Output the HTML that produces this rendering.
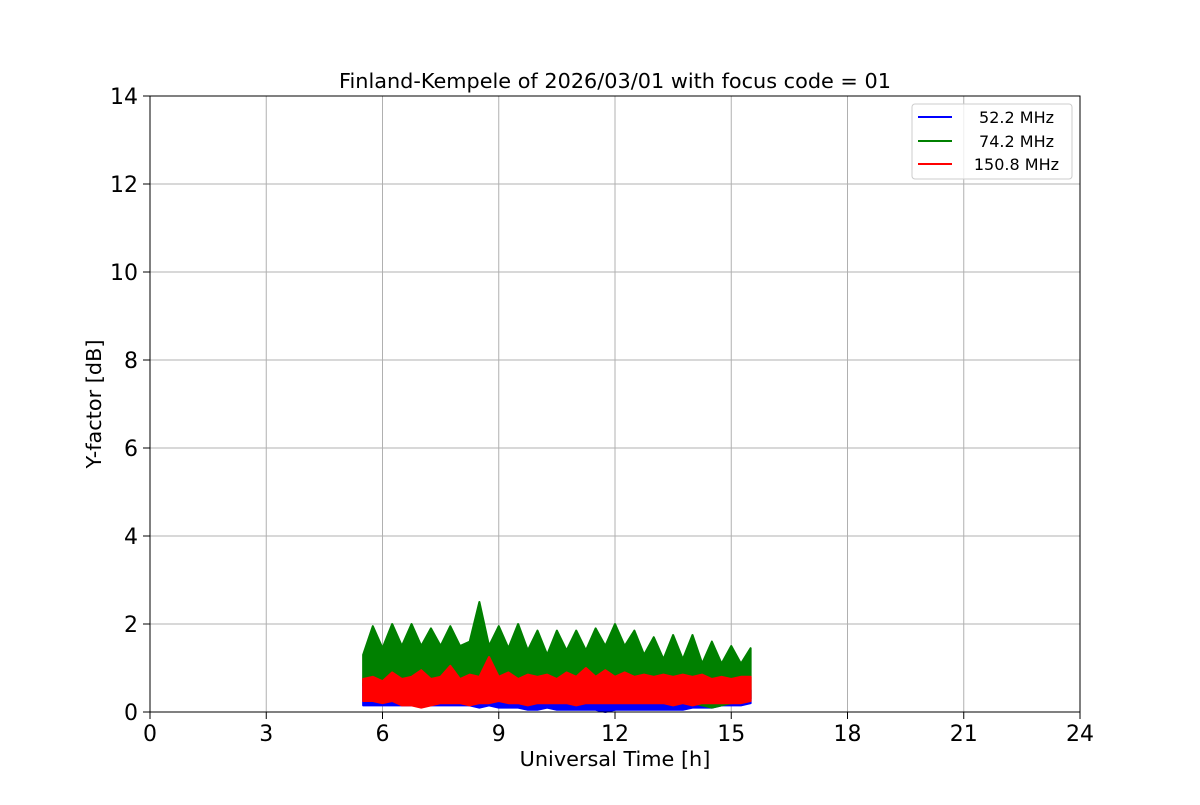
<!DOCTYPE html>
<html><head><meta charset="utf-8"><style>
body{margin:0;background:#fff}
svg text{font-family:"DejaVu Sans","Liberation Sans",sans-serif;fill:#000}
</style></head><body>
<svg id="chart" width="1200" height="800" xmlns="http://www.w3.org/2000/svg">
<rect width="1200" height="800" fill="#fff"/>
<g id="grid"></g>
<g id="series"></g>
<rect x="150" y="96" width="930" height="616" fill="none" stroke="#000" stroke-width="1"/>
<g id="ticks"></g>
<text x="615" y="88" font-size="20.8" text-anchor="middle">Finland-Kempele of 2026/03/01 with focus code = 01</text>
<text x="615" y="766" font-size="20.8" text-anchor="middle">Universal Time [h]</text>
<text x="101" y="404" font-size="20.8" text-anchor="middle" transform="rotate(-90 101 404)">Y-factor [dB]</text>
<g>
<rect x="912" y="104" width="160" height="75" rx="3" fill="#fff" fill-opacity="0.8" stroke="#ccc"/>
<line x1="918" y1="117" x2="952" y2="117" stroke="blue" stroke-width="2"/>
<text x="1054" y="123" font-size="16" text-anchor="end">52.2 MHz</text>
<line x1="918" y1="141" x2="952" y2="141" stroke="green" stroke-width="2"/>
<text x="1054" y="147" font-size="16" text-anchor="end">74.2 MHz</text>
<line x1="918" y1="164" x2="952" y2="164" stroke="red" stroke-width="2"/>
<text x="1059" y="170" font-size="16" text-anchor="end">150.8 MHz</text>
</g>
</svg>
<script>
const xTicks=[0,3,6,9,12,15,18,21,24];
const yTicks=[0,2,4,6,8,10,12,14];
const tStart=5.5, tStep=0.25;
const greenHi=[1.3,1.95,1.45,2.0,1.5,2.0,1.5,1.9,1.5,1.95,1.5,1.6,2.5,1.5,1.95,1.45,2.0,1.4,1.85,1.3,1.85,1.4,1.85,1.4,1.9,1.5,2.0,1.5,1.85,1.3,1.7,1.2,1.75,1.2,1.75,1.1,1.6,1.1,1.5,1.1,1.45];
const greenLo=[0.6,0.6,0.55,0.6,0.55,0.5,0.55,0.5,0.5,0.55,0.5,0.5,0.55,0.5,0.5,0.45,0.5,0.45,0.4,0.4,0.45,0.4,0.4,0.4,0.35,0.35,0.35,0.3,0.35,0.3,0.3,0.3,0.25,0.25,0.2,0.15,0.1,0.15,0.2,0.25,0.3];
const redHi=[0.75,0.8,0.7,0.9,0.75,0.8,0.95,0.75,0.8,1.05,0.75,0.85,0.8,1.25,0.8,0.9,0.75,0.85,0.8,0.85,0.75,0.9,0.8,1.0,0.8,0.95,0.8,0.9,0.8,0.85,0.8,0.85,0.8,0.85,0.8,0.85,0.75,0.8,0.75,0.8,0.8];
const redLo=[0.25,0.25,0.2,0.25,0.15,0.15,0.1,0.15,0.2,0.2,0.2,0.15,0.2,0.2,0.25,0.2,0.2,0.15,0.2,0.2,0.2,0.2,0.15,0.2,0.2,0.2,0.2,0.2,0.2,0.2,0.2,0.2,0.15,0.2,0.15,0.2,0.2,0.2,0.2,0.2,0.25];
const blueHi=[0.65,0.7,0.7,0.7,0.7,0.7,0.65,0.6,0.65,0.6,0.6,0.55,0.55,0.55,0.5,0.5,0.5,0.45,0.45,0.45,0.45,0.45,0.5,0.5,0.45,0.45,0.45,0.45,0.45,0.45,0.45,0.45,0.45,0.45,0.45,0.45,0.5,0.5,0.5,0.5,0.5];
const blueLo=[0.15,0.15,0.15,0.15,0.15,0.15,0.15,0.15,0.15,0.15,0.15,0.15,0.1,0.15,0.1,0.1,0.1,0.05,0.05,0.1,0.05,0.05,0.05,0.05,0.05,0.0,0.05,0.05,0.05,0.05,0.05,0.05,0.05,0.05,0.1,0.1,0.1,0.15,0.15,0.15,0.2];
const X=h=>150+h*930/24, Y=v=>712-v*616/14;
const NS='http://www.w3.org/2000/svg';
const grid=document.getElementById('grid'), ticks=document.getElementById('ticks'), ser=document.getElementById('series');
function mk(tag,attrs,parent){const e=document.createElementNS(NS,tag);for(const k in attrs)e.setAttribute(k,attrs[k]);parent.appendChild(e);return e;}
xTicks.forEach(t=>{
 const g=mk('line',{x1:X(t),x2:X(t),y1:96,y2:712,stroke:'#b0b0b0','stroke-width':1},grid);
 
 
 const tk=mk('line',{x1:X(t),x2:X(t),y1:712,y2:719,stroke:'#000','stroke-width':1},ticks);
 
 
 const tx=mk('text',{x:X(t),y:741,'font-size':22,'text-anchor':'middle'},ticks);
 tx.textContent=t;
 
 
});
yTicks.forEach(t=>{
 const g=mk('line',{x1:150,x2:1080,y1:Y(t),y2:Y(t),stroke:'#b0b0b0','stroke-width':1},grid);
 
 
 const tk=mk('line',{x1:143,x2:150,y1:Y(t),y2:Y(t),stroke:'#000','stroke-width':1},ticks);
 
 
 const tx=mk('text',{x:138,y:Y(t)+8,'font-size':22,'text-anchor':'end'},ticks);
 tx.textContent=t;
 
 
});
function band(hi,lo,color,name){
 let pts=[];
 hi.forEach((v,i)=>pts.push(X(tStart+i*tStep)+','+Y(v)));
 for(let i=lo.length-1;i>=0;i--)pts.push(X(tStart+i*tStep)+','+Y(lo[i]));
 const p=mk('polygon',{points:pts.join(' '),fill:color,stroke:color,'stroke-width':2,'stroke-linejoin':'round'},ser);
 
 
}
band(blueHi,blueLo,'blue','series-52-2-mhz');
band(greenHi,greenLo,'green','series-74-2-mhz');
band(redHi,redLo,'red','series-150-8-mhz');
</script>
</body></html>
